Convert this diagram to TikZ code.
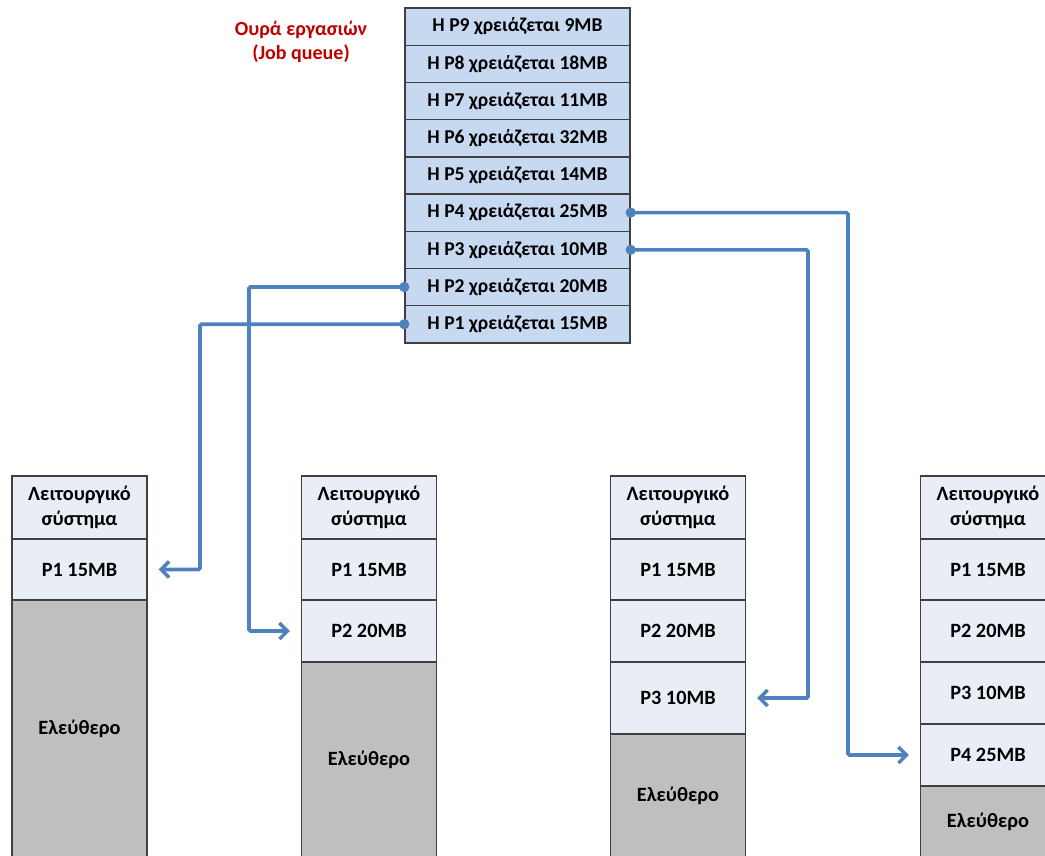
\documentclass[tikz,border=0pt]{standalone}
\usepackage{fontspec}
\setmainfont{Carlito}
\usetikzlibrary{arrows.meta}
\definecolor{qfill}{HTML}{C6D9F1}
\definecolor{cellfill}{HTML}{E9EEF6}
\definecolor{freefill}{HTML}{BFBFBF}
\definecolor{edge}{HTML}{404040}
\definecolor{link}{HTML}{4F81BD}
\definecolor{titlered}{HTML}{C00000}
\begin{document}
\begin{tikzpicture}[x=1pt,y=-1pt,
  cell/.style={draw=edge, line width=1.4pt, minimum width=135pt, inner sep=0pt,
    align=center, font=\fontsize{20.3}{25}\selectfont\bfseries},
  qcell/.style={cell, fill=qfill, minimum width=225pt, minimum height=37.2pt,
    font=\fontsize{19.6}{24}\selectfont\bfseries},
  memcell/.style={cell, fill=cellfill},
  freecell/.style={cell, fill=freefill},
  conn/.style={draw=link, line width=3.6pt,
    {Circle[length=10pt,width=10pt]}-{Straight Barb[length=8pt,width=16pt,line width=3.4pt]},
    shorten <=-5pt, rounded corners=1.5pt}
]
\useasboundingbox (0,0) rectangle (1045,855);
\clip (0,0) rectangle (1045,855);

% job queue
\node[font=\fontsize{20}{24}\selectfont\bfseries, text=titlered, align=center]
  (title) at (301,42) {Ουρά εργασιών\\(Job queue)};
\foreach \p/\mb [count=\k from 0] in {9/9,8/18,7/11,6/32,5/14,4/25,3/10,2/20,1/15}
  \node[qcell] (q\p) at (517.5,{8+37.2*(\k+0.5)}) {Η P\p\ χρειάζεται \mb MB};

% memory, first snapshot
\node[memcell, minimum height=63pt] (a0) at (79.5,507.5) {Λειτουργικό\\σύστημα};
\node[memcell, minimum height=61pt] (a1) at (79.5,569.5) {P1 15MB};
\node[freecell, minimum height=258pt] (af) at (79.5,729) {Ελεύθερο};

% memory, second snapshot
\node[memcell, minimum height=63pt] (b0) at (369,507.5) {Λειτουργικό\\σύστημα};
\node[memcell, minimum height=61pt] (b1) at (369,569.5) {P1 15MB};
\node[memcell, minimum height=62pt] (b2) at (369,631) {P2 20MB};
\node[freecell, minimum height=196pt] (bf) at (369,760) {Ελεύθερο};

% memory, third snapshot
\node[memcell, minimum height=63pt] (c0) at (678,507.5) {Λειτουργικό\\σύστημα};
\node[memcell, minimum height=61pt] (c1) at (678,569.5) {P1 15MB};
\node[memcell, minimum height=62pt] (c2) at (678,631) {P2 20MB};
\node[memcell, minimum height=72pt] (c3) at (678,698) {P3 10MB};
\node[freecell, minimum height=124pt] (cf) at (678,796) {Ελεύθερο};

% memory, fourth snapshot
\node[memcell, minimum height=63pt] (d0) at (988,507.5) {Λειτουργικό\\σύστημα};
\node[memcell, minimum height=61pt] (d1) at (988,569.5) {P1 15MB};
\node[memcell, minimum height=62pt] (d2) at (988,631) {P2 20MB};
\node[memcell, minimum height=62pt] (d3) at (988,693) {P3 10MB};
\node[memcell, minimum height=62pt] (d4) at (988,755) {P4 25MB};
\node[freecell, minimum height=72pt] (df) at (988,822) {Ελεύθερο};

% bends of the connectors
\coordinate (k1) at (200,0);
\coordinate (k2) at (249,0);
\coordinate (k3) at (808,0);
\coordinate (k4) at (848,0);

% allocation links
\draw[conn] (q1.west) -- (q1.west -| k1) |- ([xshift=11pt]a1.east);
\draw[conn] (q2.west) -- (q2.west -| k2) |- ([xshift=-11pt]b2.west);
\draw[conn] (q3.east) -- (q3.east -| k3) |- ([xshift=11pt]c3.east);
\draw[conn] (q4.east) -- (q4.east -| k4) |- ([xshift=-11pt]d4.west);
\end{tikzpicture}
\end{document}
